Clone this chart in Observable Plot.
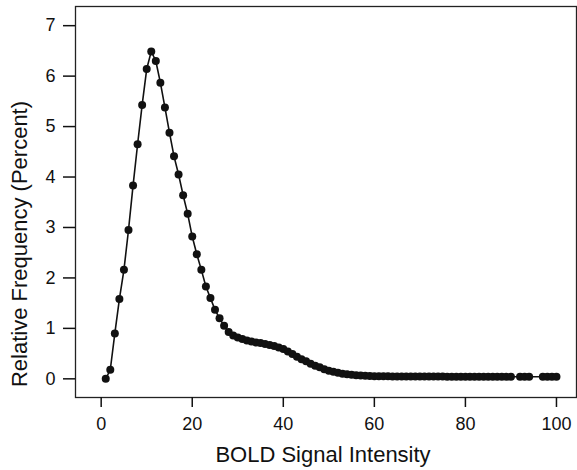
<!DOCTYPE html>
<html>
<head>
<meta charset="utf-8">
<script src="https://cdn.jsdelivr.net/npm/d3@7"></script>
<script src="https://cdn.jsdelivr.net/npm/@observablehq/plot@0.6"></script>
<style>
  html, body { margin: 0; padding: 0; background: #fff; }
  #chart svg { display: block; }
</style>
</head>
<body>
<div id="chart"></div>
<script>
const intensity = [
  1, 2, 3, 4, 5, 6, 7, 8, 9, 10,
  11, 12, 13, 14, 15, 16, 17, 18, 19, 20,
  21, 22, 23, 24, 25, 26, 27, 28, 29, 30,
  31, 32, 33, 34, 35, 36, 37, 38, 39, 40,
  41, 42, 43, 44, 45, 46, 47, 48, 49, 50,
  51, 52, 53, 54, 55, 56, 57, 58, 59, 60,
  61, 62, 63, 64, 65, 66, 67, 68, 69, 70,
  71, 72, 73, 74, 75, 76, 77, 78, 79, 80,
  81, 82, 83, 84, 85, 86, 87, 88, 89, 90,
  92, 93, 94,
  97, 98, 99, 100
];
const frequency = [
  0.00, 0.18, 0.90, 1.58, 2.16, 2.95, 3.83, 4.65, 5.43, 6.14,
  6.49, 6.30, 5.87, 5.38, 4.88, 4.41, 4.05, 3.64, 3.27, 2.82,
  2.47, 2.16, 1.83, 1.60, 1.37, 1.20, 1.05, 0.93, 0.86, 0.82,
  0.79, 0.76, 0.74, 0.72, 0.71, 0.69, 0.67, 0.65, 0.62, 0.59,
  0.54, 0.49, 0.44, 0.39, 0.35, 0.30, 0.26, 0.23, 0.19, 0.16,
  0.14, 0.12, 0.10, 0.09, 0.08, 0.07, 0.065, 0.06, 0.055, 0.05,
  0.05, 0.05, 0.05, 0.048, 0.048, 0.047, 0.047, 0.046, 0.046, 0.045,
  0.045, 0.045, 0.044, 0.044, 0.044, 0.043, 0.043, 0.043, 0.042, 0.042,
  0.042, 0.042, 0.041, 0.041, 0.041, 0.041, 0.040, 0.040, 0.040, 0.040,
  0.040, 0.040, 0.040,
  0.040, 0.040, 0.040, 0.040
];
const xTicks = [0, 20, 40, 60, 80, 100];
const yTicks = [0, 1, 2, 3, 4, 5, 6, 7];
const xLabel = "BOLD Signal Intensity";
const yLabel = "Relative Frequency (Percent)";

const data = intensity.map((x, i) => ({x, y: frequency[i]}));

const chart = Plot.plot({
  width: 577,
  height: 470,
  marginLeft: 75,
  marginRight: 1,
  marginTop: 6,
  marginBottom: 73,
  style: {fontFamily: "'Liberation Sans', Arial, sans-serif", background: "#fff", color: "#111"},
  x: {domain: [-5.64, 104.4]},
  y: {domain: [-0.37, 7.38]},
  marks: [
    Plot.frame({stroke: "#222", strokeWidth: 1.3}),
    Plot.axisX({ticks: xTicks, tickSize: 10, tickPadding: 10, fontSize: 18, strokeWidth: 1.5,
      label: xLabel, labelAnchor: "center", labelArrow: "none", labelOffset: 64}),
    Plot.axisY({ticks: yTicks, tickSize: 12, tickPadding: 8, fontSize: 18, strokeWidth: 1.5,
      label: yLabel, labelAnchor: "center", labelArrow: "none", labelOffset: 64}),
    Plot.line(data, {x: "x", y: "y", stroke: "#111", strokeWidth: 1.6}),
    Plot.dot(data, {x: "x", y: "y", r: 4, fill: "#111", stroke: "none"})
  ]
});
document.getElementById("chart").append(chart);
d3.select(chart).selectAll("[aria-label='x-axis label'] text, [aria-label='y-axis label'] text")
  .style("font-size", "22px");
d3.select(chart).selectAll("[aria-label='y-axis label']").each(function() {
  const prev = this.getAttribute("transform");
  this.setAttribute("transform", (prev ? prev + " " : "") + "translate(0,42)");
});
d3.select(chart).selectAll("[aria-label='x-axis label']").each(function() {
  const prev = this.getAttribute("transform");
  this.setAttribute("transform", (prev ? prev + " " : "") + "translate(-3,0)");
});
</script>
</body>
</html>
